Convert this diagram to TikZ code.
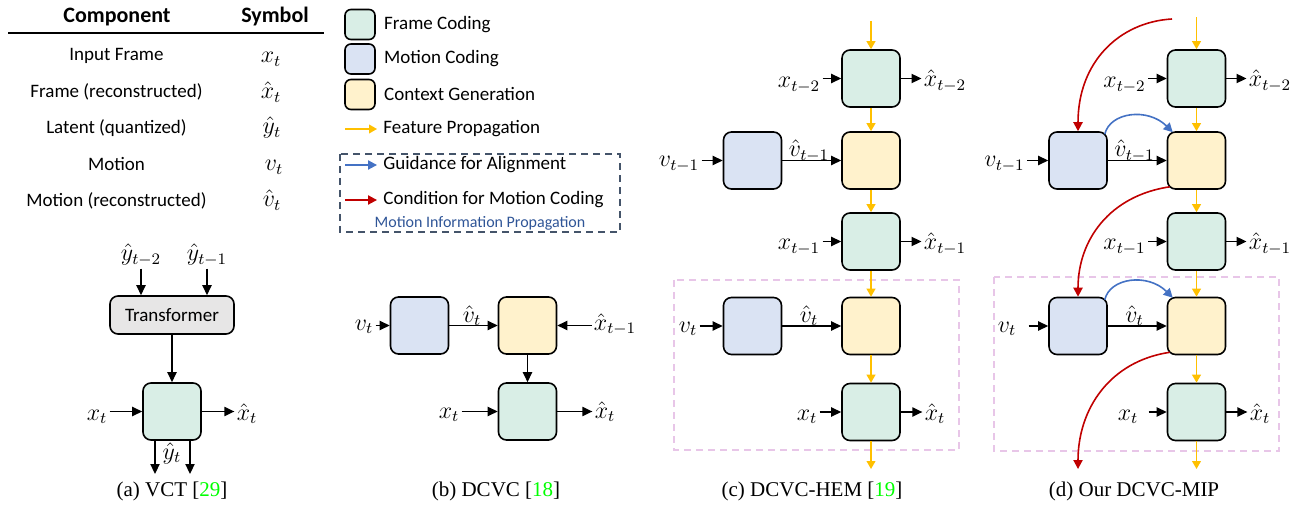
\documentclass[tikz,border=0pt]{standalone}
\usepackage{fontspec}
\setmainfont{Liberation Serif}
\newfontfamily\calfont{Carlito}
\usetikzlibrary{arrows.meta,positioning}

\definecolor{framefill}{HTML}{D9EEE6}
\definecolor{motionfill}{HTML}{DAE3F3}
\definecolor{ctxfill}{HTML}{FFF2CC}
\definecolor{transfill}{HTML}{E7E6E6}
\definecolor{featcolor}{HTML}{FFC000}
\definecolor{guidecolor}{HTML}{4472C4}
\definecolor{condcolor}{HTML}{C00000}
\definecolor{mipcolor}{HTML}{44546A}
\definecolor{miptext}{HTML}{2F5597}
\definecolor{groupcolor}{HTML}{E8C6E8}
\definecolor{citecolor}{rgb}{0,1,0}

\tikzstyle{coder} = [
	draw,
	line width=0.8pt,
	rounded corners=4pt,
	minimum width=29pt,
	minimum height=28.5pt,
	inner sep=0pt
]
\tikzstyle{fcod} = [coder, fill=framefill]
\tikzstyle{mcod} = [coder, fill=motionfill]
\tikzstyle{cgen} = [coder, fill=ctxfill]
\tikzstyle{legbox} = [coder, minimum width=15pt, minimum height=15pt, rounded corners=3pt]
\tikzstyle{sym} = [anchor=base, inner sep=1pt, font=\fontsize{12}{14}\selectfont]
\tikzstyle{tsym} = [anchor=base, inner sep=0pt, font=\fontsize{11.5}{13}\selectfont]
\tikzstyle{txt} = [anchor=base, inner sep=0pt, font=\calfont\fontsize{9.5}{11}\selectfont]
\tikzstyle{htxt} = [anchor=base, inner sep=0pt, font=\calfont\bfseries\fontsize{11}{13}\selectfont]
\tikzstyle{captxt} = [anchor=base, inner sep=0pt, font=\fontsize{10.5}{12}\selectfont]
\tikzstyle{sig} = [-{Triangle[length=5pt,width=4.6pt]}, line width=0.75pt]
\tikzstyle{feat} = [-{Triangle[length=4pt,width=4.4pt]}, line width=0.75pt, featcolor]
\tikzstyle{guide} = [-{Triangle[length=4.5pt,width=4.6pt]}, line width=0.8pt, guidecolor]
\tikzstyle{cond} = [-{Triangle[length=4.5pt,width=4.6pt]}, line width=0.8pt, condcolor]
\tikzstyle{grpbox} = [dash pattern=on 3.5pt off 2.5pt, line width=0.6pt, groupcolor]

\begin{document}
\begin{tikzpicture}[x=0.5pt, y=-0.5pt, node distance=162.75pt]
	\useasboundingbox (0,0) rectangle (1293,507);

	% symbol table
	\node[htxt] (hcomp) at (117,23) {Component};
	\node[htxt] (hsym) at (275,23) {Symbol};
	\draw[line width=0.7pt] (8,33) -- (324,33);
	\node[txt] (rin) at (116.5,61) {Input Frame};
	\node[txt] (rrec) at (116.5,97.5) {Frame (reconstructed)};
	\node[txt] (rlat) at (116.5,134) {Latent (quantized)};
	\node[txt] (rmot) at (116.5,170.5) {Motion};
	\node[txt] (rmrec) at (116.5,207) {Motion (reconstructed)};
	\node[tsym] (sin) at (271,63) {$x_t$};
	\node[tsym] (srec) at (271,99) {$\hat{x}_t$};
	\node[tsym] (slat) at (272,134) {$\hat{y}_t$};
	\node[tsym] (smot) at (274,170.5) {$v_t$};
	\node[tsym] (smrec) at (272,207) {$\hat{v}_t$};

	% legend
	\node[legbox, fill=framefill] (lgf) at (360,24.5) {};
	\node[legbox, fill=motionfill] (lgm) at (360,59) {};
	\node[legbox, fill=ctxfill] (lgc) at (360,94.5) {};
	\node[txt, right=4pt of lgf] (lgftxt) {Frame Coding};
	\node[txt, right=4pt of lgm] (lgmtxt) {Motion Coding};
	\node[txt, right=4pt of lgc] (lgctxt) {Context Generation};
	\node[txt, anchor=west] (lgp) at (383,129) {Feature Propagation};
	\node[txt, anchor=west] (lgg) at (383,165) {Guidance for Alignment};
	\node[txt, anchor=west] (lgd) at (383,200) {Condition for Motion Coding};
	\draw[feat] ([xshift=-19pt]lgp.west) -- ([xshift=-3pt]lgp.west);
	\draw[guide] ([xshift=-19pt]lgg.west) -- ([xshift=-3pt]lgg.west);
	\draw[cond] ([xshift=-19pt]lgd.west) -- ([xshift=-3pt]lgd.west);
	\draw[mipcolor, dash pattern=on 3.5pt off 2.5pt, line width=0.7pt] (340,154) rectangle (620,232);
	\node[txt, font=\calfont\fontsize{8}{10}\selectfont, miptext] (lgmip) at (480,228) {Motion Information Propagation};

	% (a) VCT
	\node[sym] (ya2) at (141,261) {$\hat{y}_{t-2}$};
	\node[sym] (ya1) at (207,261) {$\hat{y}_{t-1}$};
	\node[draw, line width=0.8pt, rounded corners=4pt, fill=transfill, minimum width=62pt, minimum height=19pt, font=\calfont\fontsize{9.5}{11}\selectfont] (trans) at (172,315) {Transformer};
	\node[fcod] (fa) at (172,411.5) {};
	\node[sym] (xa) at (97,420) {$x_t$};
	\node[sym] (xha) at (247,420) {$\hat{x}_t$};
	\node[sym] (yha) at (172,459) {$\hat{y}_t$};
	\coordinate (yaout1) at (155,474);
	\coordinate (yaout2) at (190,474);
	\draw[sig] (ya2.south) -- (ya2.south |- trans.north);
	\draw[sig] (ya1.south) -- (ya1.south |- trans.north);
	\draw[sig] (trans.south) -- (fa.north);
	\draw[sig] (xa.east |- fa) -- (fa.west);
	\draw[sig] (fa.east) -- (xha.west |- fa);
	\draw[sig] (yaout1 |- fa.south) -- (yaout1);
	\draw[sig] (yaout2 |- fa.south) -- (yaout2);
	\node[captxt] (capa) at (172,496) {(a) VCT [\textcolor{citecolor}{29}]};

	% (b) DCVC
	\node[mcod] (mb) at (419.5,325.5) {};
	\node[cgen] (cb) at (527.5,325.5) {};
	\node[fcod] (fb) at (527.5,411.5) {};
	\node[sym] (vb) at (364,330) {$v_t$};
	\node[sym] (vhb) at (472,322) {$\hat{v}_t$};
	\node[sym] (xhb1) at (615,330) {$\hat{x}_{t-1}$};
	\node[sym] (xb) at (449,418) {$x_t$};
	\node[sym] (xhb) at (605,418) {$\hat{x}_t$};
	\draw[sig] (vb.east |- mb) -- (mb.west);
	\draw[sig] (mb.east) -- (cb.west);
	\draw[sig] (xhb1.west |- cb) -- (cb.east);
	\draw[sig] (cb.south) -- (fb.north);
	\draw[sig] (xb.east |- fb) -- (fb.west);
	\draw[sig] (fb.east) -- (xhb.west |- fb);
	\node[captxt] (capb) at (496,496) {(b) DCVC [\textcolor{citecolor}{18}]};

	% (c) DCVC-HEM
	\draw[grpbox] (674,280) rectangle (959,450);
	\node[fcod] (cf2) at (871,78.5) {};
	\node[cgen] (cc1) at (871,160.5) {};
	\node[mcod] (cm1) at (752.5,160.5) {};
	\node[fcod] (cf1) at (871,241.5) {};
	\node[cgen] (cc0) at (871,326) {};
	\node[mcod] (cm0) at (752.5,326) {};
	\node[fcod] (cf0) at (871,412) {};
	\coordinate (ctop) at (871,21);
	\coordinate (cbot) at (871,469);
	\node[sym] (cxt2) at (799,88) {$x_{t-2}$};
	\node[sym] (cxh2) at (945,87) {$\hat{x}_{t-2}$};
	\node[sym] (cvt1) at (679,167) {$v_{t-1}$};
	\node[sym] (cvh1) at (809,157) {$\hat{v}_{t-1}$};
	\node[sym] (cxt1) at (799,250) {$x_{t-1}$};
	\node[sym] (cxh1) at (945,250) {$\hat{x}_{t-1}$};
	\node[sym] (cvt0) at (688,332) {$v_t$};
	\node[sym] (cvh0) at (809,322) {$\hat{v}_t$};
	\node[sym] (cxt0) at (807,420) {$x_t$};
	\node[sym] (cxh0) at (935,420) {$\hat{x}_t$};
	\draw[feat] (ctop) -- (cf2.north);
	\draw[feat] (cf2.south) -- (cc1.north);
	\draw[feat] (cc1.south) -- (cf1.north);
	\draw[feat] (cf1.south) -- (cc0.north);
	\draw[feat] (cc0.south) -- (cf0.north);
	\draw[feat] (cf0.south) -- (cbot);
	\draw[sig] (cxt2.east |- cf2) -- (cf2.west);
	\draw[sig] (cf2.east) -- (cxh2.west |- cf2);
	\draw[sig] (cvt1.east |- cm1) -- (cm1.west);
	\draw[sig] (cm1.east) -- (cc1.west);
	\draw[sig] (cxt1.east |- cf1) -- (cf1.west);
	\draw[sig] (cf1.east) -- (cxh1.west |- cf1);
	\draw[sig] (cvt0.east |- cm0) -- (cm0.west);
	\draw[sig] (cm0.east) -- (cc0.west);
	\draw[sig] (cxt0.east |- cf0) -- (cf0.west);
	\draw[sig] (cf0.east) -- (cxh0.west |- cf0);
	\node[captxt] (capc) at (812,496) {(c) DCVC-HEM [\textcolor{citecolor}{19}]};

	% (d) DCVC-MIP
	\draw[grpbox] (994,277) rectangle (1279,451);
	\node[fcod, right of=cf2] (df2) {};
	\node[cgen, right of=cc1] (dc1) {};
	\node[mcod, right of=cm1] (dm1) {};
	\node[fcod, right of=cf1] (df1) {};
	\node[cgen, right of=cc0] (dc0) {};
	\node[mcod, right of=cm0] (dm0) {};
	\node[fcod, right of=cf0] (df0) {};
	\coordinate (dtop) at (1196.5,17);
	\coordinate (dbot) at (1196.5,469);
	\coordinate (dsrc) at (1172,19);
	\coordinate (dout) at (1078,469);
	\node[sym] (dxt2) at (1124.5,88) {$x_{t-2}$};
	\node[sym] (dxh2) at (1270,87) {$\hat{x}_{t-2}$};
	\node[sym] (dvt1) at (1004.5,167) {$v_{t-1}$};
	\node[sym] (dvh1) at (1134.5,157) {$\hat{v}_{t-1}$};
	\node[sym] (dxt1) at (1124.5,250) {$x_{t-1}$};
	\node[sym] (dxh1) at (1270,250) {$\hat{x}_{t-1}$};
	\node[sym] (dvt0) at (1007,332) {$v_t$};
	\node[sym] (dvh0) at (1134.5,322) {$\hat{v}_t$};
	\node[sym] (dxt0) at (1128,420) {$x_t$};
	\node[sym] (dxh0) at (1260,420) {$\hat{x}_t$};
	\draw[feat] (dtop) -- (df2.north);
	\draw[feat] (df2.south) -- (dc1.north);
	\draw[feat] (dc1.south) -- (df1.north);
	\draw[feat] (df1.south) -- (dc0.north);
	\draw[feat] (dc0.south) -- (df0.north);
	\draw[feat] (df0.south) -- (dbot);
	\draw[sig] (dxt2.east |- df2) -- (df2.west);
	\draw[sig] (df2.east) -- (dxh2.west |- df2);
	\draw[sig] (dvt1.east |- dm1) -- (dm1.west);
	\draw[sig] (dm1.east) -- (dc1.west);
	\draw[sig] (dxt1.east |- df1) -- (df1.west);
	\draw[sig] (df1.east) -- (dxh1.west |- df1);
	\draw[sig, shorten <=5pt] (dvt0.east |- dm0) -- (dm0.west);
	\draw[sig] (dm0.east) -- (dc0.west);
	\draw[sig, shorten <=4pt] (dxt0.east |- df0) -- (df0.west);
	\draw[sig] (df0.east) -- (dxh0.west |- df0);
	% motion information passed on between steps
	\draw[cond] (dsrc) .. controls +(-52,3) and +(0,-70) .. (dm1.north);
	\draw[cond] ([shift={(3,-3)}]dc1.south west) .. controls +(-60,9) and +(0,-57) .. (dm0.north);
	\draw[cond] ([shift={(3,-3)}]dc0.south west) .. controls +(-60,9) and +(0,-60) .. (dout);
	\draw[guide] ([shift={(-3,3)}]dm1.north east) .. controls +(5,-22) and +(-25,-25) .. ([shift={(6,1)}]dc1.north west);
	\draw[guide] ([shift={(-3,3)}]dm0.north east) .. controls +(5,-22) and +(-25,-25) .. ([shift={(6,1)}]dc0.north west);
	\node[captxt] (capd) at (1134,496) {(d) Our DCVC-MIP};
\end{tikzpicture}
\end{document}
